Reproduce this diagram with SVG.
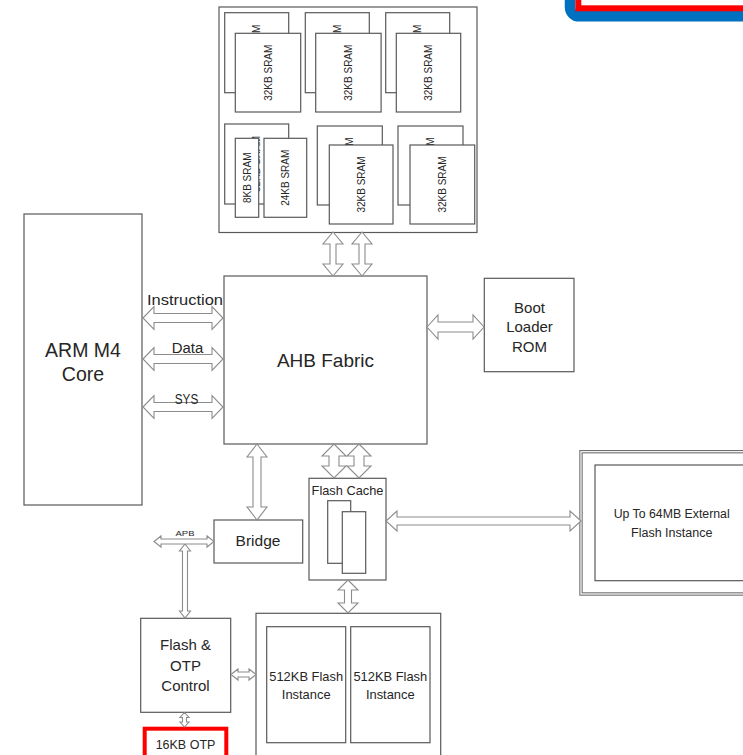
<svg xmlns="http://www.w3.org/2000/svg" width="743" height="755" viewBox="0 0 743 755">
<style>
.box{fill:#fff;stroke:#595959;stroke-width:1.2}
.arr{fill:#fff;stroke:#8c8c8c;stroke-width:1.1;stroke-linejoin:miter}
.t{font-family:"Liberation Sans",Arial,sans-serif;fill:#262626;text-anchor:middle}
.s{font-size:10px}
</style>
<rect width="743" height="755" fill="#fff"/>
<!-- top right frames -->
<rect x="570" y="-40" width="200" height="56.3" rx="9" fill="none" stroke="#0070c0" stroke-width="10.5"/>
<rect x="578.3" y="-40" width="200" height="48.3" fill="none" stroke="#ff0000" stroke-width="6"/>

<g id="sram">
<rect class="box" x="219" y="7" width="258" height="225.5"/>
<g id="sram1">
<rect class="box" x="224.7" y="12.7" width="64" height="80"/>
<text class="t s" transform="translate(256.7,52.7) rotate(-90)" y="3.5">32KB SRAM</text>
<rect class="box" x="235.3" y="33.3" width="65.4" height="78.7"/>
<text class="t s" transform="translate(268,72.7) rotate(-90)" y="3.5">32KB SRAM</text>
</g>
<g id="sram2">
<rect class="box" x="305.3" y="12.7" width="64" height="80"/>
<text class="t s" transform="translate(337.3,52.7) rotate(-90)" y="3.5">32KB SRAM</text>
<rect class="box" x="315.7" y="33.3" width="65.4" height="78.7"/>
<text class="t s" transform="translate(348.4,72.7) rotate(-90)" y="3.5">32KB SRAM</text>
</g>
<g id="sram3">
<rect class="box" x="385.7" y="12.7" width="64" height="80"/>
<text class="t s" transform="translate(417.7,52.7) rotate(-90)" y="3.5">32KB SRAM</text>
<rect class="box" x="396.3" y="33.3" width="64.4" height="78.7"/>
<text class="t s" transform="translate(428.5,72.7) rotate(-90)" y="3.5">32KB SRAM</text>
</g>
<g id="sram4">
<rect class="box" x="224.7" y="124" width="64" height="80"/>
<text class="t s" transform="translate(256.7,164) rotate(-90)" y="3.5">32KB SRAM</text>
<rect class="box" x="235.3" y="138.3" width="23.4" height="79"/>
<text class="t s" transform="translate(247,177.8) rotate(-90)" y="3.5">8KB SRAM</text>
<rect class="box" x="264" y="138.3" width="42.7" height="79"/>
<text class="t s" transform="translate(285.3,177.8) rotate(-90)" y="3.5">24KB SRAM</text>
</g>
<g id="sram5">
<rect class="box" x="317.3" y="126" width="65" height="79"/>
<text class="t s" transform="translate(349.8,165.5) rotate(-90)" y="3.5">32KB SRAM</text>
<rect class="box" x="329.3" y="145" width="63.7" height="79"/>
<text class="t s" transform="translate(361.2,184.5) rotate(-90)" y="3.5">32KB SRAM</text>
</g>
<g id="sram6">
<rect class="box" x="398" y="126" width="65" height="79"/>
<text class="t s" transform="translate(430.5,165.5) rotate(-90)" y="3.5">32KB SRAM</text>
<rect class="box" x="410" y="145" width="64.7" height="79"/>
<text class="t s" transform="translate(442.3,184.5) rotate(-90)" y="3.5">32KB SRAM</text>
</g>
</g>

<g id="arm">
<rect class="box" x="24" y="214" width="118" height="291"/>
<text class="t" font-size="19.5" x="83" y="357">ARM M4</text>
<text class="t" font-size="19.5" x="83" y="381">Core</text>
</g>

<g id="ahb">
<rect class="box" x="224" y="276" width="203" height="168"/>
<text class="t" font-size="19" x="325.5" y="367">AHB Fabric</text>
</g>

<g id="boot">
<rect class="box" x="484.3" y="278.3" width="89.7" height="93.4"/>
<text class="t" font-size="15" x="529.5" y="313">Boot</text>
<text class="t" font-size="15" x="529.5" y="332">Loader</text>
<text class="t" font-size="15" x="529.5" y="352">ROM</text>
</g>

<g id="bridge">
<rect class="box" x="214" y="520" width="88.7" height="43"/>
<text class="t" font-size="15.5" x="258" y="546">Bridge</text>
</g>

<g id="flashcache">
<rect class="box" x="309" y="478.3" width="77" height="101.7"/>
<text class="t" font-size="12.8" x="347.5" y="495">Flash Cache</text>
<rect class="box" x="327.7" y="500.7" width="23" height="62.6"/>
<rect class="box" x="342.3" y="511.7" width="23.4" height="61.6"/>
</g>

<g id="external">
<rect x="581" y="451.7" width="200" height="142.3" fill="#fff" stroke="#6e6e6e" stroke-width="3.4"/>
<rect x="581" y="451.7" width="200" height="142.3" fill="none" stroke="#fff" stroke-width="1.2"/>
<rect class="box" x="595" y="465" width="200" height="115.7"/>
<text class="t" font-size="12.3" x="671.7" y="518.3">Up To 64MB External</text>
<text class="t" font-size="12.5" x="671.7" y="536.7">Flash Instance</text>
</g>

<g id="otpctrl">
<rect class="box" x="140.7" y="618.3" width="90" height="94"/>
<text class="t" font-size="15" x="185.5" y="650">Flash &amp;</text>
<text class="t" font-size="15" x="185.5" y="670.7">OTP</text>
<text class="t" font-size="15" x="185.5" y="691">Control</text>
</g>

<g id="flash">
<rect class="box" x="256" y="613.3" width="184.7" height="160"/>
<rect class="box" x="266.7" y="626.7" width="79" height="116"/>
<text class="t" font-size="12.9" x="306.2" y="681">512KB Flash</text>
<text class="t" font-size="12.9" x="306.2" y="699">Instance</text>
<rect class="box" x="350.7" y="626.7" width="79.3" height="116"/>
<text class="t" font-size="12.9" x="390.3" y="681">512KB Flash</text>
<text class="t" font-size="12.9" x="390.3" y="699">Instance</text>
</g>

<g id="otp">
<rect x="144.7" y="728.7" width="81.6" height="40" fill="#fff" stroke="#ff0000" stroke-width="4"/>
<text class="t" font-size="12.5" x="185.5" y="749.3">16KB OTP</text>
</g>

<g id="connectors">
<polygon class="arr" points="333,232 343,244 336,244 336,264 343,264 333,276 323,264 330,264 330,244 323,244"/>
<polygon class="arr" points="362,232 372,244 365,244 365,264 372,264 362,276 352,264 359,264 359,244 352,244"/>
<polygon class="arr" points="334,444 346,456 339,456 339,466 346,466 334,478 322,466 329,466 329,456 322,456"/>
<polygon class="arr" points="359,444 371,456 364,456 364,466 371,466 359,478 347,466 354,466 354,456 347,456"/>
<polygon class="arr" points="257,444 267,457 261,457 261,507 267,507 257,520 247,507 253,507 253,457 247,457"/>
<polygon class="arr" points="348,580 358,590 351.5,590 351.5,603 358,603 348,613 338,603 344.5,603 344.5,590 338,590"/>
<polygon class="arr" points="185,544 190.5,551 187.5,551 187.5,611 190.5,611 185,618 179.5,611 182.5,611 182.5,551 179.5,551"/>
<polygon class="arr" points="184.5,712.5 189,717.5 186.5,717.5 186.5,722 189,722 184.5,727 180,722 182.5,722 182.5,717.5 180,717.5"/>
<polygon class="arr" points="143,318 154,306.5 154,313.5 212,313.5 212,306.5 223,318 212,329.5 212,322.5 154,322.5 154,329.5"/>
<polygon class="arr" points="143,359 154,347.5 154,354.5 212,354.5 212,347.5 223,359 212,370.5 212,363.5 154,363.5 154,370.5"/>
<polygon class="arr" points="143,407 154,395.5 154,402.5 212,402.5 212,395.5 223,407 212,418.5 212,411.5 154,411.5 154,418.5"/>
<polygon class="arr" points="427,327 438,315 438,322 473,322 473,315 484,327 473,339 473,332 438,332 438,339"/>
<polygon class="arr" points="386,521 397,511 397,517 570,517 570,511 581,521 570,531 570,525 397,525 397,531"/>
<polygon class="arr" points="154,541.5 161,536 161,539 207,539 207,536 214,541.5 207,547 207,544 161,544 161,547"/>
<polygon class="arr" points="231,674.5 238,669 238,672 249,672 249,669 256,674.5 249,680 249,677 238,677 238,680"/>
<text class="t" font-size="14" x="185" y="305" textLength="76" lengthAdjust="spacingAndGlyphs">Instruction</text>
<text class="t" font-size="14" x="187.5" y="353" textLength="31.5" lengthAdjust="spacingAndGlyphs">Data</text>
<text class="t" font-size="14" x="186.5" y="404" textLength="23.5" lengthAdjust="spacingAndGlyphs">SYS</text>
<text class="t" font-size="8" x="185" y="536" textLength="19" lengthAdjust="spacingAndGlyphs">APB</text>
</g>
</svg>
